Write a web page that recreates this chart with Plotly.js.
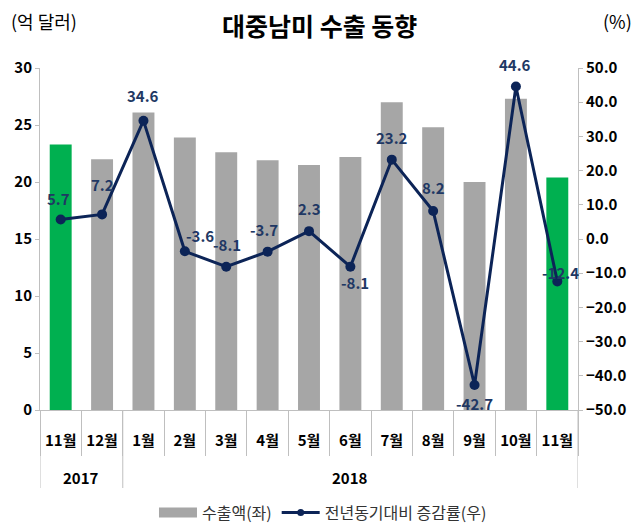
<!DOCTYPE html>
<html><head><meta charset="utf-8">
<script src="https://cdn.plot.ly/plotly-3.0.1.min.js"></script>
<style>body{margin:0;background:#fff}#c{width:644px;height:528px}</style>
</head><body><div id="c"></div>
<script>
const months = ["11월","12월","1월","2월","3월","4월","5월","6월","7월","8월","9월","10월","11월"];
const yearLabels = ["2017","2018"];
const yearStartIndex = [0,2];
const exportValues = [23.3,22.0,26.1,23.9,22.6,21.9,21.5,22.2,27.0,24.8,20.0,27.3,20.4];
const growthRates = [5.7,7.2,34.6,-3.6,-8.1,-3.7,2.3,-8.1,23.2,8.2,-42.7,44.6,-12.4];

// label offsets (px) relative to each point: [dx, dy up]
const labelShift = [[-2,21],[0,30],[0,25],[15,16],[1,22],[-4,22],[0,23],[5,-16],[0,22],[0,23],[0,-18],[-1,22],[3,9]];

const font = "'Noto Sans CJK KR', 'Noto Sans', sans-serif";
const navy = "#0C2457";
const idx = months.map((m,i)=>i);
const barColors = months.map((m,i)=> (m==="11월") ? "#00B050" : "#A6A6A6");
const n = months.length;
const boundaries = Array.from({length:n+1},(_,i)=>i-0.5);

const traces = [
 {type:"bar", name:"수출액(좌)", x:idx, y:exportValues, width:0.53,
  marker:{color:barColors}, showlegend:false, hoverinfo:"skip"},
 {type:"scatter", mode:"lines+markers", name:"전년동기대비 증감률(우)", x:idx, y:growthRates,
  yaxis:"y2", line:{color:navy,width:3}, marker:{color:navy,size:10}, cliponaxis:false, showlegend:false},
 // legend entries
 {type:"scatter", mode:"lines", name:"수출액(좌)", x:[0], y:[null], line:{color:"#A6A6A6",width:10}, showlegend:true},
 {type:"scatter", mode:"lines+markers", name:"전년동기대비 증감률(우)", x:[0], y:[null], yaxis:"y2",
  line:{color:navy,width:3}, marker:{color:navy,size:7}, showlegend:true},
 {type:"scatter", mode:"markers", x:[0], y:[null], xaxis:"x2", showlegend:false, hoverinfo:"skip"}
];

const annotations = growthRates.map((v,i)=>({
  text:v.toFixed(1), xref:"x", yref:"y2", x:idx[i], y:v, xshift:labelShift[i][0], yshift:labelShift[i][1],
  xanchor:"center", yanchor:"middle", showarrow:false, font:{family:font,size:15,color:"#1F3864",weight:"bold"}
}));
const yearEnds = yearStartIndex.map((s,i)=> i<yearStartIndex.length-1 ? yearStartIndex[i+1]-1 : n-1);
yearLabels.forEach((y,i)=>annotations.push({
  text:y, xref:"x", yref:"paper", x:(yearStartIndex[i]+yearEnds[i])/2, y:0, yshift:-67, xanchor:"center", yanchor:"middle",
  showarrow:false, font:{family:font,size:15,color:"#000",weight:"bold"}
}));
annotations.push(
  {text:"대중남미 수출 동향", xref:"paper", yref:"paper", x:0.5, xshift:10, y:1, yshift:43, xanchor:"center", yanchor:"middle", showarrow:false,
   font:{family:font,size:25,color:"#000",weight:"bold"}},
  {text:"(억 달러)", xref:"paper", yref:"paper", x:0, xshift:-31, y:1, yshift:47, xanchor:"left", yanchor:"middle", showarrow:false,
   font:{family:font,size:18,color:"#000"}},
  {text:"(%)", xref:"paper", yref:"paper", x:1, xshift:56, y:1, yshift:47, xanchor:"right", yanchor:"middle", showarrow:false,
   font:{family:font,size:18,color:"#000"}}
);
const dividerX = yearStartIndex.map(s=>s-0.5).concat([n-0.5]);
const plotH = 528-68-118;
const shapes = dividerX.map(x=>({type:"line", xref:"x", yref:"paper", x0:x, x1:x, y0:0, y1:-78/plotH, line:{color:"#BFBFBF",width:1}}));

const layout = {
 width:644, height:528,
 margin:{l:40,r:66,t:68,b:118,autoexpand:false},
 paper_bgcolor:"#fff", plot_bgcolor:"#fff",
 font:{family:font,color:"#000"},
 barmode:"overlay",
 showlegend:true,
 legend:{orientation:"h", x:0.526, xanchor:"center", y:-0.25, yanchor:"top", itemwidth:38, traceorder:"normal",
   font:{family:font,size:16,color:"#333"}},
 xaxis:{range:[-0.5,n-0.5], tickvals:idx, ticktext:months, ticks:"", showline:true, linecolor:"#BFBFBF", showgrid:false, zeroline:false,
   automargin:false, ticklabelstandoff:17, tickfont:{family:font,size:15,color:"#000",weight:"bold"}},
 xaxis2:{range:[-0.5,n-0.5], overlaying:"x", side:"bottom", anchor:"y", tickvals:boundaries, ticktext:boundaries.map(()=>""), ticks:"outside", ticklen:45,
   tickcolor:"#BFBFBF", showline:false, showgrid:false, zeroline:false, automargin:false},
 yaxis:{range:[0,30], dtick:5, showgrid:false, zeroline:false, showline:true, linecolor:"#BFBFBF", ticks:"outside", ticklen:4, tickcolor:"#BFBFBF",
   automargin:false, tickfont:{family:font,size:15,color:"#000",weight:"bold"}},
 yaxis2:{range:[-50,50], dtick:10, tickformat:".1f", overlaying:"y", side:"right", showgrid:false, zeroline:false, showline:true,
   automargin:false, linecolor:"#BFBFBF", ticks:"outside", ticklen:4, tickcolor:"#BFBFBF", tickfont:{family:font,size:15,color:"#000",weight:"bold"}},
 annotations:annotations,
 shapes:shapes
};
Plotly.newPlot("c", traces, layout, {displayModeBar:false, staticPlot:true});
</script></body></html>
